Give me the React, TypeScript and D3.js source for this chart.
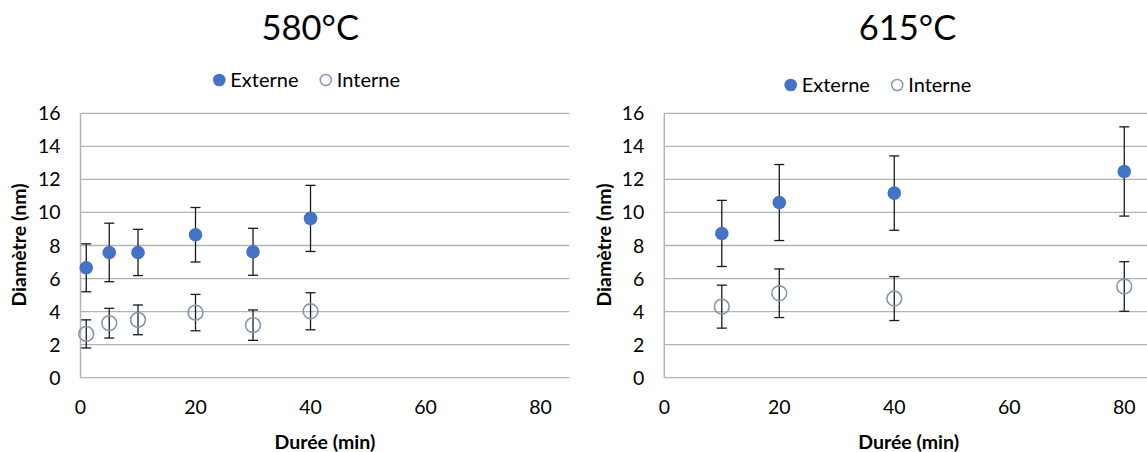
import React from "react";
import * as d3 from "d3";

const durations580 = [1, 5, 10, 20, 30, 40];
const externe580 = [6.65, 7.58, 7.58, 8.65, 7.62, 9.64];
const externeErr580 = [1.45, 1.77, 1.4, 1.65, 1.42, 2.0];
const interne580 = [2.65, 3.3, 3.5, 3.94, 3.18, 4.02];
const interneErr580 = [0.85, 0.9, 0.9, 1.1, 0.92, 1.12];

const durations615 = [10, 20, 40, 80];
const externe615 = [8.73, 10.6, 11.17, 12.48];
const externeErr615 = [2.0, 2.3, 2.25, 2.7];
const interne615 = [4.3, 5.11, 4.79, 5.52];
const interneErr615 = [1.3, 1.47, 1.33, 1.5];

const xTicks = [0, 20, 40, 60, 80];
const yTicks = [0, 2, 4, 6, 8, 10, 12, 14, 16];
const titles = ["580°C", "615°C"];
const seriesNames = ["Externe", "Interne"];
const xTitle = "Durée (min)";
const yTitle = "Diamètre (nm)";

const FONT = "Lato, 'Open Sans', sans-serif";
const BLUE = "#4472c4";
const OPEN = "#8497b0";
const GRID = "#b4b4b4";

type PanelProps = {
  title: string;
  x0: number;
  x1: number;
  titleX: number;
  legendX: number;
  legendY: number;
  yTitleX: number;
  durations: number[];
  ext: number[];
  extErr: number[];
  int: number[];
  intErr: number[];
};

function Panel(p: PanelProps) {
  const x = d3.scaleLinear().domain([0, 85]).range([p.x0, p.x1]);
  const y = d3.scaleLinear().domain([0, 16]).range([377.7, 113.3]);
  const cap = 5;
  const errBars = (vals: number[], errs: number[], key: string) =>
    p.durations.map((d, i) => {
      const cx = x(d);
      const yt = y(vals[i] + errs[i]);
      const yb = y(vals[i] - errs[i]);
      return (
        <g key={key + i} stroke="#1a1a1a" strokeWidth={1.3}>
          <line x1={cx} x2={cx} y1={yt} y2={yb} />
          <line x1={cx - cap} x2={cx + cap} y1={yt} y2={yt} />
          <line x1={cx - cap} x2={cx + cap} y1={yb} y2={yb} />
        </g>
      );
    });
  return (
    <g fontFamily={FONT}>
      <text x={p.titleX} y={40} fontSize={34.5} textAnchor="middle" fill="#000">
        {p.title}
      </text>
      {/* legend */}
      <circle cx={p.legendX} cy={p.legendY} r={6.3} fill={BLUE} />
      <text x={p.legendX + 11} y={p.legendY + 7} fontSize={20} fill="#000">
        {seriesNames[0]}
      </text>
      <circle cx={p.legendX + 106.5} cy={p.legendY} r={5.6} fill="none" stroke={OPEN} strokeWidth={1.5} />
      <text x={p.legendX + 117.5} y={p.legendY + 7} fontSize={20} fill="#000">
        {seriesNames[1]}
      </text>
      {/* grid */}
      {yTicks.map((t) => (
        <line key={"g" + t} x1={p.x0} x2={p.x1} y1={y(t)} y2={y(t)} stroke={GRID} strokeWidth={1.3} />
      ))}
      <line x1={p.x0} x2={p.x0} y1={y(0)} y2={y(16)} stroke={GRID} strokeWidth={1.5} />
      {yTicks.map((t) => (
        <text key={"yl" + t} x={p.x0 - 20} y={y(t) + 7} fontSize={19.5} textAnchor="end" fill="#000">
          {t}
        </text>
      ))}
      {xTicks.map((t) => (
        <text key={"xl" + t} x={x(t)} y={414} fontSize={19.5} textAnchor="middle" fill="#000">
          {t}
        </text>
      ))}
      <text x={(p.x0 + p.x1) / 2} y={448.5} fontSize={19.5} fontWeight="bold" textAnchor="middle" fill="#000">
        {xTitle}
      </text>
      <text
        transform={`translate(${p.yTitleX},${245}) rotate(-90)`}
        fontSize={19.5}
        fontWeight="bold"
        textAnchor="middle"
        fill="#000"
      >
        {yTitle}
      </text>
      {errBars(p.ext, p.extErr, "e")}
      {errBars(p.int, p.intErr, "i")}
      {p.durations.map((d, i) => (
        <circle key={"ec" + i} cx={x(d)} cy={y(p.ext[i])} r={6.8} fill={BLUE} />
      ))}
      {p.durations.map((d, i) => (
        <circle key={"ic" + i} cx={x(d)} cy={y(p.int[i])} r={7.4} fill="none" stroke={OPEN} strokeWidth={1.6} />
      ))}
    </g>
  );
}

export default function App() {
  return (
    <svg
      width={1147}
      height={452}
      style={{ position: "absolute", left: 0, top: 0, background: "#fff" }}
    >
      <rect width={1147} height={452} fill="#fff" />
      <Panel
        title={titles[0]}
        x0={80.5}
        x1={569.3}
        titleX={310.3}
        legendX={219.3}
        legendY={80}
        yTitleX={25.5}
        durations={durations580}
        ext={externe580}
        extErr={externeErr580}
        int={interne580}
        intErr={interneErr580}
      />
      <Panel
        title={titles[1]}
        x0={664.3}
        x1={1153}
        titleX={907.5}
        legendX={790.7}
        legendY={85}
        yTitleX={611}
        durations={durations615}
        ext={externe615}
        extErr={externeErr615}
        int={interne615}
        intErr={interneErr615}
      />
    </svg>
  );
}
